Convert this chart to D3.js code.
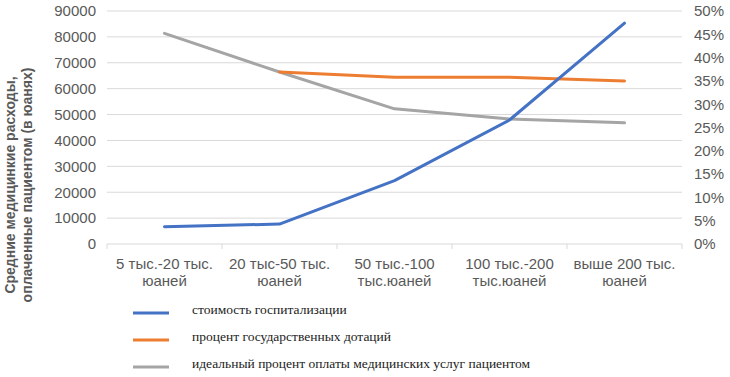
<!DOCTYPE html>
<html>
<head>
<meta charset="utf-8">
<script src="https://cdn.jsdelivr.net/npm/d3@7"></script>
<style>
    body { margin: 0; background: #fff; }
    #chart text { font-family: "Liberation Sans", Arial, sans-serif; }
</style>
</head>
<body>
<div id="chart"></div>
<script>
// Categories (income groups), "\n" marks the line break
var categories = [
    "5 тыс.-20 тыс.\nюаней",
    "20 тыс-50 тыс.\nюаней",
    "50 тыс.-100\nтыс.юаней",
    "100 тыс.-200\nтыс.юаней",
    "выше 200 тыс.\nюаней"
];

// Series values
var hospitalCost = [6700, 7700, 24500, 47900, 85300];        // left axis, yuan
var stateSubsidy = [null, 36.9, 35.8, 35.8, 35.0];          // right axis, %
var idealPatientShare = [45.2, 36.9, 29.0, 26.8, 26.0];     // right axis, %

var leftTicks = [0, 10000, 20000, 30000, 40000, 50000, 60000, 70000, 80000, 90000];
var rightTicks = [0, 5, 10, 15, 20, 25, 30, 35, 40, 45, 50];

var seriesNames = [
    "стоимость госпитализации",
    "процент государственных дотаций",
    "идеальный процент оплаты медицинских услуг пациентом"
];
var seriesColors = ["#4472c4", "#ed7d31", "#a5a5a5"];

var yTitle = ["Средние медицинкие расходы,", "оплаченные пациентом (в юанях)"];

document.addEventListener('DOMContentLoaded', function() {
    var margin = {top: 11, left: 107, right: 48, bottom: 133};
    var fullW = 730, fullH = 377;
    var width = fullW - margin.left - margin.right;
    var height = fullH - margin.top - margin.bottom;

    var svg = d3.select("#chart").append("svg")
        .attr("width", fullW)
        .attr("height", fullH);

    var g = svg.append("g")
        .attr("transform", `translate(${margin.left},${margin.top})`);

    var xScale = d3.scaleBand().domain(categories).range([0, width]);
    var yLeft = d3.scaleLinear().domain([0, 90000]).range([height, 0]);
    var yRight = d3.scaleLinear().domain([0, 50]).range([height, 0]);

    // Gridlines
    g.selectAll(".grid")
        .data(leftTicks.slice(1))
        .join("line")
        .attr("class", "grid")
        .attr("x1", 0).attr("x2", width)
        .attr("y1", d => yLeft(d)).attr("y2", d => yLeft(d))
        .attr("stroke", "#d9d9d9")
        .attr("stroke-width", 1);

    // Left axis
    var leftAxis = g.append("g")
        .call(d3.axisLeft(yLeft).tickValues(leftTicks).tickSize(0).tickPadding(11).tickFormat(d3.format("d")));
    leftAxis.select(".domain").remove();
    leftAxis.selectAll("text").attr("fill", "#595959").style("font-size", "15px");

    // Right axis
    var rightAxis = g.append("g")
        .attr("transform", `translate(${width},0)`)
        .call(d3.axisRight(yRight).tickValues(rightTicks).tickSize(0).tickPadding(12).tickFormat(d => d + "%"));
    rightAxis.select(".domain").remove();
    rightAxis.selectAll("text").attr("fill", "#595959").style("font-size", "15px");

    // Bottom axis
    var bottom = g.append("g").attr("transform", `translate(0,${height})`);
    bottom.append("line")
        .attr("x1", 0).attr("x2", width)
        .attr("stroke", "#d9d9d9").attr("stroke-width", 1);
    var bounds = categories.map(c => xScale(c)).concat([width]);
    bottom.selectAll(".tick-mark")
        .data(bounds)
        .join("line")
        .attr("class", "tick-mark")
        .attr("x1", d => d).attr("x2", d => d)
        .attr("y1", 0).attr("y2", 5)
        .attr("stroke", "#d9d9d9");
    var catLabels = bottom.selectAll(".cat")
        .data(categories)
        .join("text")
        .attr("class", "cat")
        .attr("text-anchor", "middle")
        .attr("fill", "#595959")
        .style("font-size", "15px")
        .attr("transform", d => `translate(${xScale(d) + xScale.bandwidth() / 2},0)`);
    catLabels.selectAll("tspan")
        .data(d => d.split("\n"))
        .join("tspan")
        .attr("x", 0)
        .attr("y", (d, i) => 25 + i * 17)
        .text(d => d);

    // Lines
    var cx = d => xScale(d) + xScale.bandwidth() / 2;
    var allSeries = [
        {values: hospitalCost, scale: yLeft, color: seriesColors[0]},
        {values: stateSubsidy, scale: yRight, color: seriesColors[1]},
        {values: idealPatientShare, scale: yRight, color: seriesColors[2]}
    ];
    // draw grey and orange first, blue on top
    [allSeries[2], allSeries[1], allSeries[0]].forEach(function(s) {
        var line = d3.line()
            .defined(d => d.v !== null)
            .x(d => cx(d.c))
            .y(d => s.scale(d.v));
        g.append("path")
            .datum(categories.map((c, i) => ({c: c, v: s.values[i]})))
            .attr("fill", "none")
            .attr("stroke", s.color)
            .attr("stroke-width", 3)
            .attr("stroke-linejoin", "round")
            .attr("stroke-linecap", "round")
            .attr("d", line);
    });

    // Y axis title
    var title = svg.append("text")
        .attr("transform", "translate(0,185) rotate(-90)")
        .attr("text-anchor", "middle")
        .attr("fill", "#595959")
        .style("font-size", "14px")
        .style("font-weight", "bold");
    title.selectAll("tspan")
        .data(yTitle)
        .join("tspan")
        .attr("x", 0)
        .attr("y", (d, i) => 15 + i * 17)
        .text(d => d);

    // Legend
    var legend = svg.append("g").attr("transform", "translate(133,313)");
    var items = legend.selectAll("g")
        .data(seriesNames)
        .join("g")
        .attr("transform", (d, i) => `translate(0,${i * 27})`);
    items.append("line")
        .attr("x1", 0).attr("x2", 36)
        .attr("stroke", (d, i) => seriesColors[i])
        .attr("stroke-width", 3);
    items.append("text")
        .attr("x", 59)
        .attr("y", 0)
        .attr("dy", "0.1em")
        .attr("fill", "#222")
        .style("font-family", "'Liberation Serif', 'Times New Roman', serif")
        .style("font-size", "13.5px")
        .text(d => d);
});
</script>
</body>
</html>
